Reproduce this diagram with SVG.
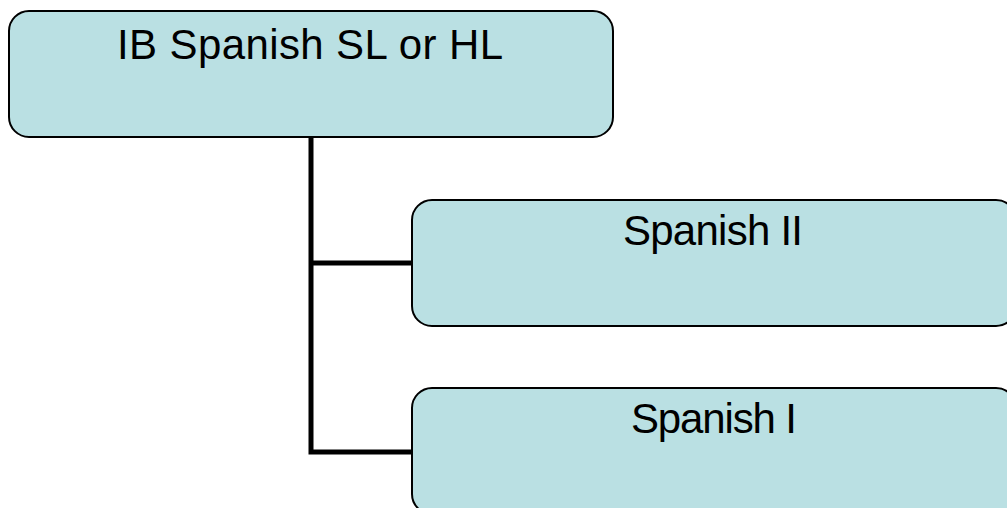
<svg xmlns="http://www.w3.org/2000/svg" width="1007" height="508" viewBox="0 0 1007 508">
<style>
.box{fill:#BAE0E3;stroke:#000;stroke-width:2}
.lbl{font-family:"Liberation Sans",Arial,sans-serif;font-size:42px;fill:#000}
.conn{fill:none;stroke:#000;stroke-width:5}
</style>
<rect width="1007" height="508" fill="#fff"/>
<g id="connectors">
<path class="conn" d="M311,137 V452 H413"/>
<path class="conn" d="M311,263 H413"/>
</g>
<g id="node-ib">
<rect class="box" x="9" y="11" width="604" height="126" rx="20"/>
<text class="lbl" x="117" y="59" textLength="386" lengthAdjust="spacing">IB Spanish SL or HL</text>
</g>
<g id="node-spanish2">
<rect class="box" x="412" y="200" width="604" height="126" rx="20"/>
<text class="lbl" x="623" y="245" textLength="180" lengthAdjust="spacing">Spanish II</text>
</g>
<g id="node-spanish1">
<rect class="box" x="412" y="388" width="604" height="126" rx="20"/>
<text class="lbl" x="631" y="433" textLength="166" lengthAdjust="spacing">Spanish I</text>
</g>
</svg>
